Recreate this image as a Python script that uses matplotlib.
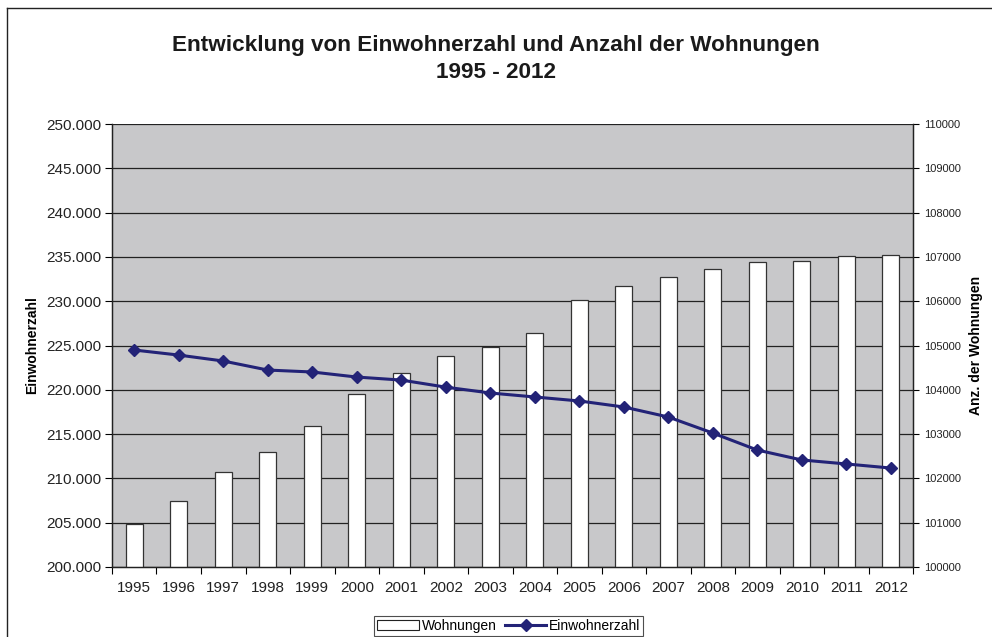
import numpy as np
import matplotlib.pyplot as plt
from matplotlib.ticker import FuncFormatter
from matplotlib.lines import Line2D

plt.rcParams['font.family'] = ['Liberation Sans', 'DejaVu Sans']

jahre = ['1995', '1996', '1997', '1998', '1999', '2000', '2001', '2002', '2003',
         '2004', '2005', '2006', '2007', '2008', '2009', '2010', '2011', '2012']
wohnungen = [100970, 101490, 102140, 102600, 103180, 103910, 104380, 104760, 104970,
             105280, 106030, 106340, 106550, 106730, 106880, 106910, 107030, 107040]
einwohner = [224490, 223920, 223250, 222230, 222010, 221440, 221100, 220300, 219640,
             219190, 218740, 218060, 216930, 215120, 213200, 212080, 211630, 211170]

navy = '#232377'
x = np.arange(len(jahre))

fig = plt.figure(figsize=(9.92, 6.37), dpi=100)
ax = fig.add_axes([0.1129, 0.1099, 0.8075, 0.6954])

# bars on the main axes (right scale), line on the twin (left scale) so it sits on top
ax.bar(x, [w - 100000 for w in wohnungen], bottom=100000, width=0.39,
       color='white', edgecolor='#333333', linewidth=0.9, zorder=3, label='Wohnungen')
ax.set_facecolor('#c8c8ca')
ax.set_ylim(100000, 110000)
ax.set_yticks(np.arange(100000, 110001, 1000))
ax.grid(axis='y', color='#222222', linewidth=0.9, zorder=1)
ax.set_axisbelow(True)

ax.set_xlim(-0.5, len(jahre) - 0.5)
ax.set_xticks(x)
ax.set_xticklabels(jahre)
ax.set_xticks(np.arange(-0.5, len(jahre), 1), minor=True)
ax.tick_params(axis='x', which='major', length=0, labelsize=11, pad=10, labelcolor='#222222')
ax.tick_params(axis='x', which='minor', length=5, width=0.8)

ax2 = ax.twinx()
ax2.plot(x, einwohner, color=navy, linewidth=2.2, marker='D', markersize=6.5,
         zorder=5, label='Einwohnerzahl')
ax2.set_ylim(200000, 250000)
ax2.set_yticks(np.arange(200000, 250001, 5000))
ax2.yaxis.set_major_formatter(FuncFormatter(lambda v, p: f'{int(v):,}'.replace(',', '.')))

# swap sides: twinx puts the original on the left, so move it after
ax.yaxis.tick_right()
ax.yaxis.set_label_position('right')
ax.set_ylabel('Anz. der Wohnungen', fontsize=10, fontweight='bold', labelpad=6)
ax.tick_params(axis='y', labelsize=8, length=4, width=0.8, pad=4, labelcolor='#222222')

ax2.yaxis.tick_left()
ax2.yaxis.set_label_position('left')
ax2.set_ylabel('Einwohnerzahl', fontsize=10, fontweight='bold', labelpad=5)
ax2.tick_params(axis='y', labelsize=11, length=5, width=0.8, pad=3, labelcolor='#222222')

for a in (ax, ax2):
    for s in a.spines.values():
        s.set_color('#222222')
        s.set_linewidth(0.9)
    a.spines['top'].set_visible(False)

fig.suptitle('Entwicklung von Einwohnerzahl und Anzahl der Wohnungen\n1995 - 2012',
             fontsize=16.2, fontweight='bold', y=0.945, linespacing=1.35, color='#1a1a1a')

# legend
h_bar = plt.Rectangle((0, 0), 1, 1, facecolor='white', edgecolor='#222222', linewidth=0.8)
h_line = Line2D([], [], color=navy, linewidth=2.2, marker='D', markersize=6)
leg = fig.legend([h_bar, h_line], ['Wohnungen', 'Einwohnerzahl'], loc='lower center',
                 bbox_to_anchor=(0.513, 0.0), ncol=2, fontsize=10, frameon=True,
                 fancybox=False, edgecolor='#222222', handlelength=3, handletextpad=0.2,
                 columnspacing=0.6, borderpad=0.2, borderaxespad=0.1)
leg.get_frame().set_linewidth(0.8)

# outer chart border (left and top visible)
fig.add_artist(Line2D([0.007, 0.007], [0.0, 0.988], color='#222222', linewidth=1,
                      transform=fig.transFigure))
fig.add_artist(Line2D([0.007, 1.0], [0.988, 0.988], color='#222222', linewidth=1,
                      transform=fig.transFigure))

fig.savefig('out.png', dpi=100)
